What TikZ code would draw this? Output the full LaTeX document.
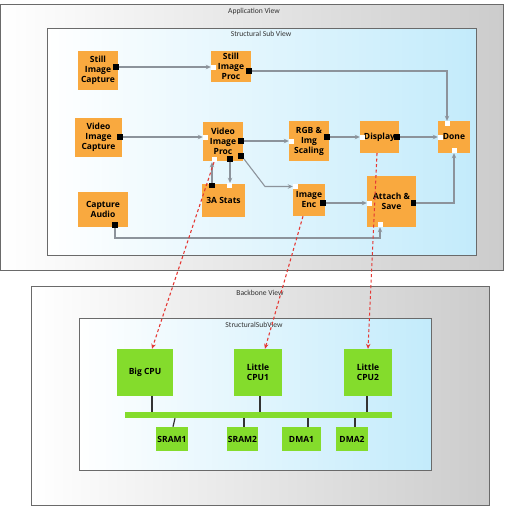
\documentclass[tikz,border=0pt]{standalone}
\usepackage{fontspec}
\setsansfont{Open Sans}
\newfontfamily\titlefont{Carlito}
\usetikzlibrary{arrows.meta}
\definecolor{orng}{HTML}{F9A93F}
\definecolor{grn}{HTML}{84DC2C}
\definecolor{conncol}{HTML}{8C939B}
\definecolor{bordcol}{HTML}{6A6A6A}
\definecolor{lblue}{HTML}{C3EBFB}
\definecolor{redc}{HTML}{E53935}
\begin{document}
\begin{tikzpicture}[x=1pt,y=-1pt,
  outerview/.style={draw=bordcol,line width=0.9pt,left color=white,right color=black!20,inner sep=0pt,anchor=north west},
  innerview/.style={draw=bordcol,line width=0.9pt,left color=white,right color=lblue,inner sep=0pt,anchor=north west},
  viewtitle/.style={font=\titlefont\fontsize{7.6}{8}\selectfont,text=black!80},
  obox/.style={fill=orng,draw=none,inner sep=0pt,align=center,font=\sffamily\bfseries\fontsize{8.5}{10}\selectfont},
  gbox/.style={fill=grn,draw=none,inner sep=0pt,align=center,font=\sffamily\bfseries\fontsize{8.5}{10}\selectfont},
  bport/.style={fill=black,draw=none,minimum size=5.5pt,inner sep=0pt},
  wport/.style={fill=white,draw=none,minimum size=5pt,inner sep=0pt},
  conn/.style={draw=conncol,line width=1.1pt,-{Stealth[length=5pt,width=4.5pt]}},
  busline/.style={draw=black!80,line width=1.2pt},
  reddash/.style={draw=redc,line width=1.1pt,dash pattern=on 3pt off 2.5pt,-{Stealth[length=5pt,width=4.5pt]}}
]
\useasboundingbox (0,0) rectangle (504,514);
\fill[white] (0,0) rectangle (504,514);

% ---------- Views ----------
\node[outerview,minimum width=503pt,minimum height=266pt] (app) at (0,4) {};
\node[viewtitle] (apptitle) at (254,11) {Application View};
\node[innerview,minimum width=429pt,minimum height=227pt] (ssv) at (47,28) {};
\node[viewtitle] (ssvtitle) at (261,34) {Structural Sub View};

\node[outerview,minimum width=458pt,minimum height=219pt] (bb) at (31,286) {};
\node[viewtitle] (bbtitle) at (260,293) {Backbone View};
\node[innerview,minimum width=352pt,minimum height=152pt] (bsv) at (79,318) {};
\node[viewtitle] (bsvtitle) at (254,325) {StructuralSubView};

% ---------- Orange nodes ----------
\node[obox,minimum width=40pt,minimum height=39pt] (sic) at (98,70.5) {Still\\Image\\Capture};
\node[obox,minimum width=40pt,minimum height=31pt] (sip) at (231,66.5) {Still\\Image\\Proc};
\node[obox,minimum width=47pt,minimum height=39pt] (vic) at (98.5,137.5) {Video\\Image\\Capture};
\node[obox,minimum width=40pt,minimum height=39pt] (vip) at (223,141.5) {Video\\Image\\Proc};
\node[obox,minimum width=40pt,minimum height=40pt] (rgb) at (309,141) {RGB \&\\Img\\Scaling};
\node[obox,minimum width=39pt,minimum height=32pt] (disp) at (379.5,137) {Display};
\node[obox,minimum width=32pt,minimum height=32pt] (done) at (454,137) {Done};
\node[obox,minimum width=43pt,minimum height=33pt] (stats) at (223.5,200.5) {3A Stats};
\node[obox,minimum width=50pt,minimum height=35pt] (cap) at (103,209.5) {Capture\\Audio};
\node[obox,minimum width=32pt,minimum height=32pt] (enc) at (309,200) {Image\\Enc};
\node[obox,minimum width=49pt,minimum height=51pt] (att) at (391.5,201.5) {Attach \&\\Save};

% ---------- Ports ----------
\node[bport] (sicO) at (116,67) {};
\node[wport] (sipI) at (213.5,67) {};
\node[bport] (sipO) at (249,71) {};
\node[bport] (vicO) at (120,137) {};
\node[wport] (vipI) at (205.5,137) {};
\node[bport] (vipO) at (241,141) {};
\node[bport] (vipBR) at (241,156) {};
\node[bport] (vipB) at (230,159) {};
\node[wport] (vipBL) at (214,159.5) {};
\node[wport] (rgbI) at (291.5,141) {};
\node[bport] (rgbO) at (327,137) {};
\node[wport] (dispI) at (362.5,137) {};
\node[bport] (dispO) at (397,137) {};
\node[wport] (doneL) at (440.5,137) {};
\node[wport] (doneT) at (447,123.5) {};
\node[wport] (doneB) at (454,150.5) {};
\node[bport] (statsTL) at (212,185.5) {};
\node[wport] (statsT) at (229.5,185.5) {};
\node[bport] (capO) at (115,225) {};
\node[wport] (encI) at (295.5,186.5) {};
\node[bport] (encO) at (323,203) {};
\node[wport] (attI) at (369.5,203) {};
\node[bport] (attO) at (413.5,203) {};
\node[wport] (attB) at (380,224.5) {};

% ---------- Gray connectors ----------
\draw[conn] (sicO.east) -- (sipI.west);
\draw[conn] (sipO.east) -| (doneT.north);
\draw[conn] (vicO.east) -- (vipI.west);
\draw[conn] (vipO.east) -- (rgbI.west);
\draw[conn] (rgbO.east) -- (dispI.west);
\draw[conn] (dispO.east) -- (doneL.west);
\draw[conn] (vipB.south) -- (vipB.south |- statsT.north);
\draw[conn] (statsTL.north) -- (statsTL.north |- vipBL.south);
\coordinate (encbend) at (265,186.5);
\draw[conn] (vipBR.south east) -- (encbend) -- (encI.west);
\draw[conn] (encO.east) -- (attI.west);
\draw[conn] (attO.east) -| (doneB.south);
\coordinate (capbend) at (115,238);
\draw[conn] (capO.south) -- (capbend) -| (attB.south);

% ---------- Green nodes ----------
\node[gbox,minimum width=56pt,minimum height=47pt] (big) at (145,372.5) {Big CPU};
\node[gbox,minimum width=48pt,minimum height=47pt] (lc1) at (258,372.5) {Little\\CPU1};
\node[gbox,minimum width=48pt,minimum height=47pt] (lc2) at (368,372.5) {Little\\CPU2};
\node[gbox,minimum width=267pt,minimum height=6pt] (bus) at (258.5,415) {};
\node[gbox,minimum width=32pt,minimum height=24pt] (sram1) at (172,439) {SRAM1};
\node[gbox,minimum width=31pt,minimum height=24pt] (sram2) at (242.5,439) {SRAM2};
\node[gbox,minimum width=39pt,minimum height=24pt] (dma1) at (301.5,439) {DMA1};
\node[gbox,minimum width=32pt,minimum height=24pt] (dma2) at (352,439) {DMA2};

\coordinate (x1) at (152,0);
\coordinate (x2) at (260,0);
\coordinate (x3) at (367,0);
\coordinate (x4) at (175,0);
\coordinate (x4b) at (173,0);
\coordinate (x5) at (244,0);
\coordinate (x6) at (308,0);
\coordinate (x7) at (355,0);
\draw[busline] (big.south -| x1) -- (bus.north -| x1);
\draw[busline] (lc1.south -| x2) -- (bus.north -| x2);
\draw[busline] (lc2.south -| x3) -- (bus.north -| x3);
\draw[busline] (bus.south -| x4) -- (sram1.north -| x4b);
\draw[busline] (bus.south -| x5) -- (sram2.north -| x5);
\draw[busline] (bus.south -| x6) -- (dma1.north -| x6);
\draw[busline] (bus.south -| x7) -- (dma2.north -| x7);

% ---------- Red dashed allocation arrows ----------
\coordinate (s2) at (303,0);
\coordinate (s3) at (377,0);
\coordinate (t2) at (265,0);
\draw[reddash] (vipBL.south) -- (big.north -| x1);
\draw[reddash] (enc.south -| s2) -- (lc1.north -| t2);
\draw[reddash] (disp.south -| s3) -- (lc2.north);
\end{tikzpicture}
\end{document}
